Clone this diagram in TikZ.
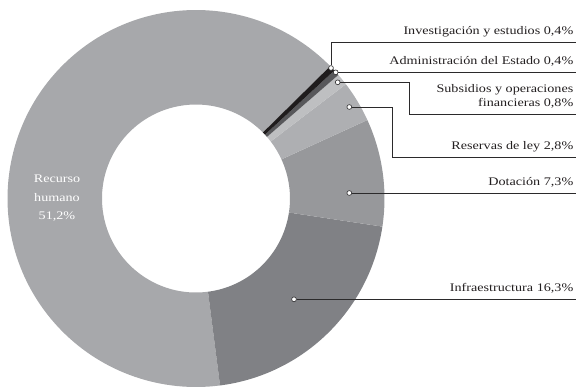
\documentclass[tikz,border=0pt]{standalone}
\usepackage{fontspec}
\setmainfont{Liberation Serif}[FakeStretch=1.22]
\definecolor{rec}{HTML}{A7A8AB}
\definecolor{infra}{HTML}{808185}
\definecolor{dotc}{HTML}{97989B}
\definecolor{res}{HTML}{AEAFB2}
\definecolor{sub}{HTML}{BEBFC1}
\definecolor{adm}{HTML}{58585B}
\definecolor{inv}{HTML}{1F1C1D}
\definecolor{leadcol}{HTML}{2B2A2B}
\definecolor{labeltext}{HTML}{231F20}
\newcommand\dslice[3]{\fill[#3, shift={(196,187.5)}] (#1:188.5) arc[start angle=#1,end angle=#2,radius=188.5] -- (#2:94) arc[start angle=#2,end angle=#1,radius=94] -- cycle;}
\begin{document}
\begin{tikzpicture}[x=1pt,y=1pt,
  font=\fontsize{11.6}{14}\selectfont,
  lbl/.style={anchor=base east, inner sep=0pt, text=labeltext},
  lead/.style={draw=leadcol, line width=0.8pt},
  dotmark/.style={circle, draw=leadcol, fill=white, line width=0.6pt, minimum size=4.8pt, inner sep=0pt}]
\useasboundingbox (0,0) rectangle (576,386);
% slices
\dslice{-315.4}{-82.67}{rec}
\dslice{-82.67}{-8.58}{infra}
\dslice{-8.58}{24.6}{dotc}
\dslice{24.6}{37.33}{res}
\dslice{37.33}{40.96}{sub}
\dslice{40.96}{42.78}{adm}
\dslice{42.78}{44.6}{inv}
% Recurso humano label
\node[align=center, text=white, inner sep=0pt, font=\fontsize{11.6}{18.5}\selectfont] (tRec) at (57,187.5) {Recurso\\humano\\51,2\%};
% dots
\node[dotmark] (dInv) at (331,318) {};
\node[dotmark] (dAdm) at (335.7,313.7) {};
\node[dotmark] (dSub) at (337.7,303.7) {};
\node[dotmark] (dRes) at (349.3,279) {};
\node[dotmark] (dDot) at (349.3,193) {};
\node[dotmark] (dInf) at (294,86.7) {};
% line ends and corners
\coordinate (eInv) at (576,343.7);
\coordinate (eAdm) at (576,313.7);
\coordinate (kSub) at (409.3,271.7);
\coordinate (eSub) at (576,271.7);
\coordinate (kRes) at (392.7,228.7);
\coordinate (eRes) at (576,228.7);
\coordinate (eDot) at (576,193);
\coordinate (eInf) at (576,86.7);
% leaders
\draw[lead] (dInv) |- (eInv);
\draw[lead] (dAdm) -- (eAdm);
\draw[lead] (dSub) -| (kSub) -- (eSub);
\draw[lead] (dRes) -| (kRes) -- (eRes);
\draw[lead] (dDot) -- (eDot);
\draw[lead] (dInf) -- (eInf);
% labels
\node[lbl] (tInv) at (573.5,351.2) {Investigación y estudios 0,4\%};
\node[lbl] (tAdm) at (573.5,321.2) {Administración del Estado 0,4\%};
\node[lbl] (tSub1) at (573.5,293.3) {Subsidios y operaciones};
\node[lbl] (tSub2) at (573.5,279.3) {financieras 0,8\%};
\node[lbl] (tRes) at (573.5,236.2) {Reservas de ley 2,8\%};
\node[lbl] (tDot) at (573.5,200.5) {Dotación 7,3\%};
\node[lbl] (tInf) at (573.5,94.2) {Infraestructura 16,3\%};
\end{tikzpicture}
\end{document}
